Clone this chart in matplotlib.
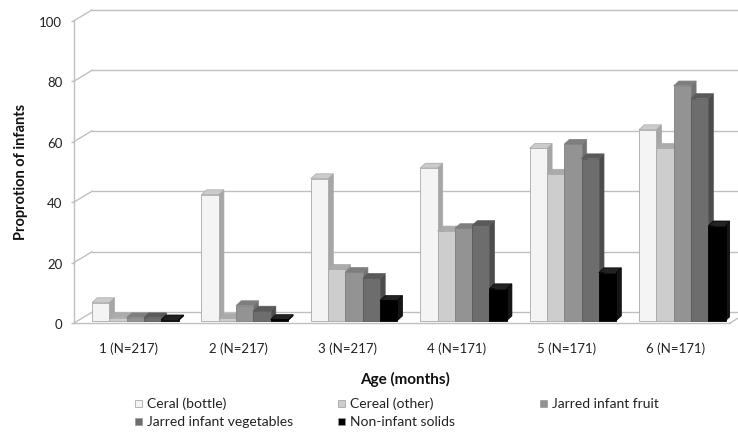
import matplotlib
matplotlib.use("Agg")
import matplotlib.pyplot as plt
from matplotlib.patches import Polygon, Rectangle
from matplotlib.transforms import ScaledTranslation
import numpy as np

plt.rcParams['font.family'] = ['Lato', 'DejaVu Sans']

# ---- data ----
categories = ["1 (N=217)", "2 (N=217)", "3 (N=217)", "4 (N=171)", "5 (N=171)", "6 (N=171)"]
series_names = ["Ceral (bottle)", "Cereal (other)", "Jarred infant fruit",
                "Jarred infant vegetables", "Non-infant solids"]
ceral_bottle = [6.0, 41.7, 47.0, 50.5, 57.0, 63.2]
cereal_other = [1.0, 0.8, 17.0, 29.7, 48.5, 57.0]
jarred_fruit = [1.0, 5.0, 16.0, 30.5, 58.4, 77.7]
jarred_veg = [1.0, 3.2, 14.0, 31.5, 53.6, 73.5]
non_infant = [0.3, 0.4, 6.7, 10.6, 15.9, 31.4]
yticks = [0, 20, 40, 60, 80, 100]

series = [ceral_bottle, cereal_other, jarred_fruit, jarred_veg, non_infant]
front_cols = ["#f4f4f4", "#cdcdcd", "#939393", "#6d6d6d", "#000000"]
side_cols = ["#a6a6a6", "#9d9d9d", "#727272", "#4c4c4c", "#151515"]
top_cols = ["#cbcbcb", "#ababab", "#7e7e7e", "#5a5a5a", "#222222"]
edge_cols = ["#a8a8a8", "#a8a8a8", "#808080", "#5a5a5a", "#000000"]

W, H = 738, 439
fig = plt.figure(figsize=(W / 100, H / 100), dpi=100)
ax_l, ax_r, ax_b, ax_t = 74, 730, 324, 21.7
ax = fig.add_axes([ax_l / W, 1 - ax_b / H, (ax_r - ax_l) / W, (ax_b - ax_t) / H])

group_px = 109.4
x_left = -0.56
x_right = x_left + (ax_r - ax_l) / group_px
ax.set_xlim(x_left, x_right)
ax.set_ylim(0, 100)

pxx = (ax_r - ax_l) / (x_right - x_left)
pxy = (ax_b - ax_t) / 100.0

grid_col = "#bfbfbf"
# back wall offsets
wdx = 18 / pxx
wdy = 10.8 / pxy
for v in yticks:
    ax.plot([x_left + wdx, x_right + 0.3], [v + wdy, v + wdy], color=grid_col, lw=1.0,
            clip_on=False, zorder=1)
    ax.plot([x_left, x_left + wdx], [v, v + wdy], color=grid_col, lw=1.0,
            clip_on=False, zorder=1)
# right floor edge
ax.plot([x_right, x_right + wdx], [0, wdy], color=grid_col, lw=1.0, clip_on=False, zorder=1)

# bars
bw = 17.3 / pxx
bdx = 5.2 / pxx
bdy = 4.8 / pxy
shift = ax.transData + ScaledTranslation(0, 2.3 / 100, fig.dpi_scale_trans)
x = np.arange(len(categories))
for i in range(len(categories)):
    start = x[i] - 2.5 * bw
    for k, s in enumerate(series):
        h = s[i]
        x0 = start + k * bw
        z = 3 + k * 0.1
        side = Polygon([(x0 + bw, 0), (x0 + bw + bdx, bdy), (x0 + bw + bdx, h + bdy), (x0 + bw, h)],
                       closed=True, facecolor=side_cols[k], edgecolor=edge_cols[k], lw=0.5,
                       transform=shift, zorder=z)
        top = Polygon([(x0, h), (x0 + bdx, h + bdy), (x0 + bw + bdx, h + bdy), (x0 + bw, h)],
                      closed=True, facecolor=top_cols[k], edgecolor=edge_cols[k], lw=0.5,
                      transform=shift, zorder=z)
        ax.add_patch(side)
        ax.add_patch(top)
        ax.bar(x0, h, width=bw, align='edge', color=front_cols[k], edgecolor=edge_cols[k],
               lw=0.6, transform=shift, zorder=z + 0.05)

# axes styling
for sp in ["top", "right"]:
    ax.spines[sp].set_visible(False)
for sp in ["left", "bottom"]:
    ax.spines[sp].set_color(grid_col)
    ax.spines[sp].set_linewidth(1.0)
ax.set_yticks(yticks)
ax.set_yticklabels([str(v) for v in yticks])
ax.tick_params(axis='y', direction='out', length=2.5, width=1.0, color=grid_col,
               labelsize=9.5, pad=6, labelcolor="#222222")
ax.set_xticks(x)
ax.set_xticklabels(categories)
ax.tick_params(axis='x', length=0, labelsize=9.5, pad=13, labelcolor="#222222")
off = ScaledTranslation(-6.5 / 100, 0, fig.dpi_scale_trans)
for lab in ax.get_xticklabels():
    lab.set_transform(lab.get_transform() + off)

fig.text(21 / W, 1 - 172 / H, "Proprotion of infants", rotation=90, ha='center', va='center',
         fontsize=10.5, fontweight='bold', color="#111111")
fig.text(405 / W, 1 - 379 / H, "Age (months)", ha='center', va='center',
         fontsize=11, fontweight='bold', color="#111111")

# legend (manual placement)
leg_pos = [(135, 404), (338, 404), (540, 404), (135, 422), (338, 422)]
for k, name in enumerate(series_names):
    lx, ly = leg_pos[k]
    fig.add_artist(Rectangle((lx / W, 1 - (ly + 3.5) / H), 6.5 / W, 6.5 / H,
                             transform=fig.transFigure, facecolor=front_cols[k],
                             edgecolor="#9a9a9a", lw=0.5))
    fig.text((lx + 12) / W, 1 - ly / H, name, ha='left', va='center', fontsize=10,
             color="#222222")

fig.savefig("out.png", dpi=100)
